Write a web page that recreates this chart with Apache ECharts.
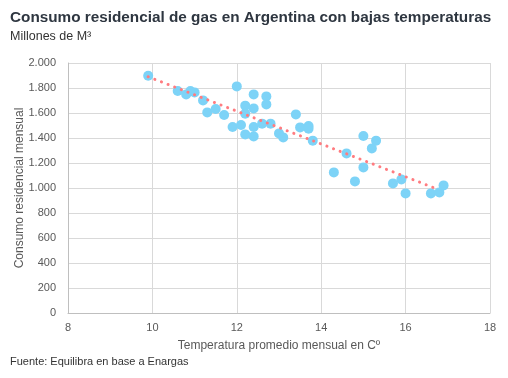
<!DOCTYPE html>
<html><head><meta charset="utf-8">
<script src="https://cdn.jsdelivr.net/npm/echarts@6/dist/echarts.min.js"></script>
<style>html,body{margin:0;padding:0;background:#fff}#c{width:508px;height:378px}</style>
</head><body><div id="c"></div>
<script>
const tempX = [9.9,10.6,10.8,10.9,11.0,11.2,11.3,11.5,11.7,12.0,11.9,12.1,12.2,12.2,12.2,12.4,12.4,12.4,12.4,12.6,12.7,12.7,12.8,13.0,13.1,13.4,13.5,13.7,13.7,13.8,14.3,14.6,14.8,15.0,15.0,15.2,15.3,15.7,15.9,16.0,16.6,16.8,16.9];
const consumoY = [1898,1776,1749,1776,1765,1701,1605,1632,1584,1813,1488,1504,1659,1595,1429,1749,1637,1488,1413,1515,1733,1669,1515,1437,1405,1589,1485,1496,1475,1379,1125,1277,1053,1416,1165,1317,1379,1037,1069,957,957,965,1021];
const trendX = [9.9, 16.8];
const trendY = [1890, 985];
const xTicks = [8,10,12,14,16,18];
const yTicks = [0,200,400,600,800,1000,1200,1400,1600,1800,2000];

const chart = echarts.init(document.getElementById('c'));
const fmt = v => String(v).replace(/\B(?=(\d{3})+(?!\d))/g, '.');
chart.setOption({
  animation: false,
  textStyle: {fontFamily: 'Liberation Sans'},
  title: [
    {text: 'Consumo residencial de gas en Argentina con bajas temperaturas', left: 5, top: 5,
     textStyle: {fontSize: 15.3, fontWeight: 'bold', color: '#2e3640', fontFamily: 'Liberation Sans'}},
    {text: 'Millones de M³', left: 5, top: 25, textStyle: {fontSize: 12.5, fontWeight: 'normal', color: '#333'}},
    {text: 'Fuente: Equilibra en base a Enargas', left: 5, top: 351, textStyle: {fontSize: 11, fontWeight: 'normal', color: '#333'}}
  ],
  grid: {left: 68, right: 18, top: 63, bottom: 65, containLabel: false, outerBoundsMode: 'none'},
  xAxis: {type: 'value', min: xTicks[0], max: xTicks[xTicks.length-1], interval: 2,
    name: 'Temperatura promedio mensual en Cº', nameLocation: 'middle', nameGap: 27,
    nameTextStyle: {fontSize: 12, color: '#595959'},
    axisLine: {show: true, lineStyle: {color: '#bfbfbf'}}, axisTick: {show: false},
    axisLabel: {fontSize: 11, color: '#595959', margin: 9},
    splitLine: {show: true, lineStyle: {color: '#d9d9d9'}}},
  yAxis: {type: 'value', min: yTicks[0], max: yTicks[yTicks.length-1], interval: 200,
    name: 'Consumo residencial mensual', nameLocation: 'middle', nameGap: 42, nameMoveOverlap: false,
    nameTextStyle: {fontSize: 12, color: '#595959'},
    axisLine: {show: true, lineStyle: {color: '#bfbfbf'}}, axisTick: {show: false},
    axisLabel: {fontSize: 11, color: '#595959', formatter: fmt, margin: 12},
    splitLine: {show: true, lineStyle: {color: '#d9d9d9'}}},
  series: [
    {type: 'scatter', data: tempX.map((x,i)=>[x, consumoY[i]]), symbolSize: 10,
     itemStyle: {color: '#7dd3f7', opacity: 1}, z: 2},
    {type: 'line', data: trendX.map((x,i)=>[x, trendY[i]]), symbol: 'none', z: 3,
     lineStyle: {color: '#ff7c80', width: 3, type: [0.1, 7], cap: 'round'}}
  ]
});
</script></body></html>
